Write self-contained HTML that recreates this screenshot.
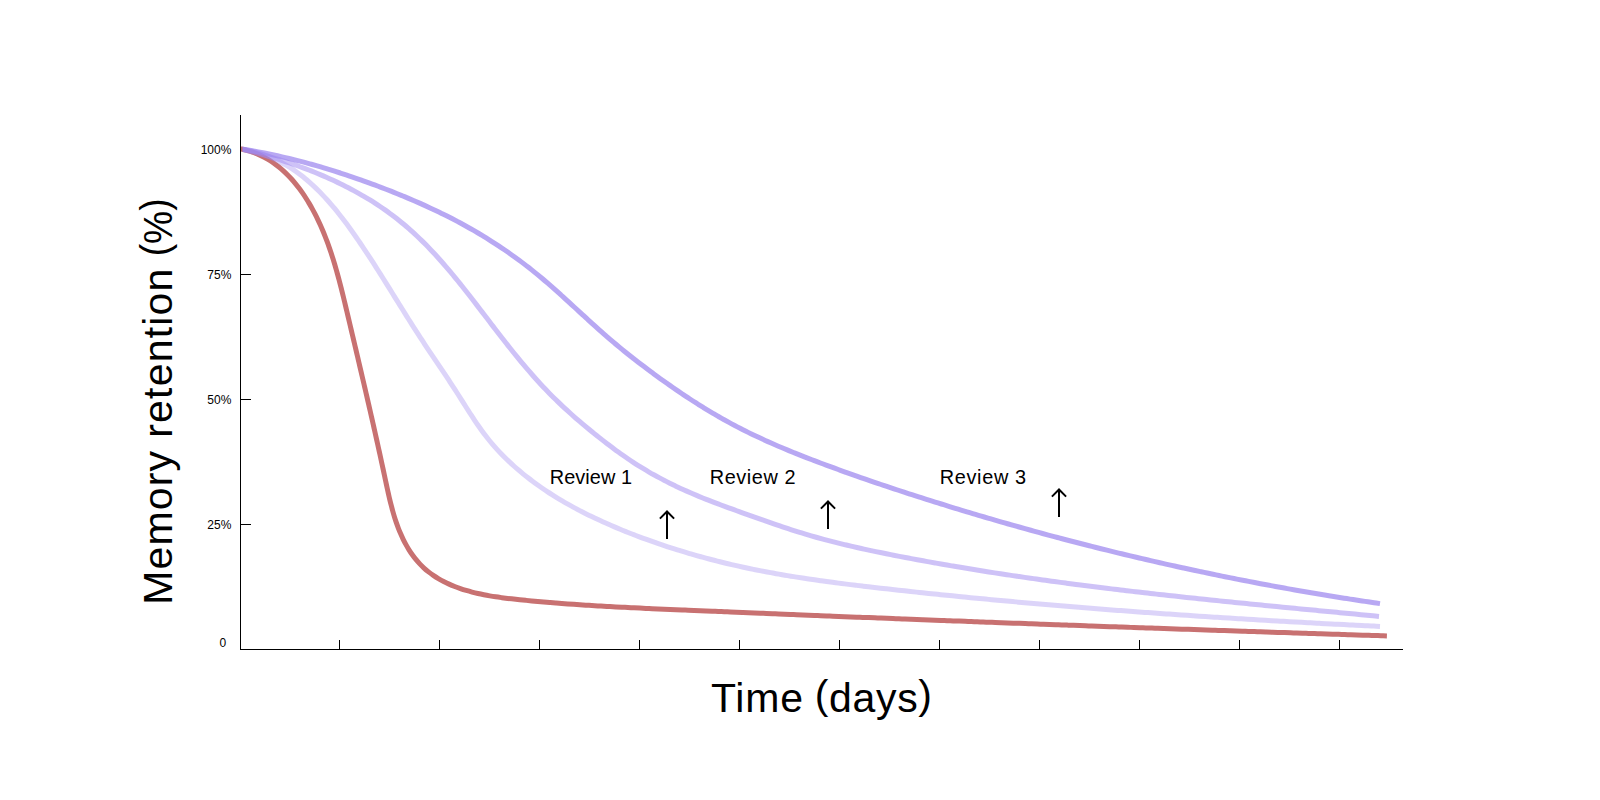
<!DOCTYPE html>
<html lang="en">
<head>
<meta charset="utf-8">
<title>Memory retention over time</title>
<style>
html,body{margin:0;padding:0;background:#fff;}
body{width:1600px;height:800px;overflow:hidden;position:relative;font-family:"Liberation Sans",sans-serif;color:#000;}
svg{position:absolute;left:0;top:0;display:block;}
text{font-family:"Liberation Sans",sans-serif;fill:#000;}
.tick{font-size:12px;}
.rev{font-size:19.9px;}
.ttl{font-size:41px;}
</style>
</head>
<body>
<svg width="1600" height="800" viewBox="0 0 1600 800">
<defs><clipPath id="cp"><rect x="242.6" y="100" width="1200" height="600"/></clipPath></defs>
<rect width="1600" height="800" fill="#fff"/>
<g fill="none" stroke-width="5" stroke-linecap="butt" stroke-linejoin="round">
<path d="M240.50 148.86C241.53 149.09 244.66 149.75 246.67 150.29C248.69 150.84 250.66 151.46 252.59 152.14C254.52 152.82 256.41 153.57 258.26 154.38C260.11 155.19 261.92 156.06 263.69 156.99C265.46 157.91 267.18 158.90 268.88 159.93C270.57 160.97 272.22 162.06 273.84 163.20C275.45 164.34 277.03 165.54 278.57 166.77C280.12 168.01 281.62 169.29 283.09 170.62C284.56 171.94 286.00 173.31 287.40 174.72C288.80 176.12 290.17 177.57 291.50 179.04C292.84 180.52 294.14 182.04 295.40 183.58C296.67 185.13 297.91 186.70 299.11 188.31C300.32 189.91 301.49 191.54 302.64 193.19C303.78 194.84 304.90 196.52 305.98 198.22C307.07 199.91 308.12 201.63 309.15 203.36C310.18 205.10 311.18 206.85 312.15 208.61C313.12 210.36 314.07 212.14 314.99 213.92C315.91 215.71 316.81 217.50 317.68 219.31C318.55 221.11 319.39 222.93 320.22 224.76C321.04 226.58 321.84 228.42 322.62 230.27C323.40 232.11 324.16 233.97 324.90 235.83C325.64 237.69 326.36 239.57 327.06 241.45C327.76 243.33 328.44 245.22 329.11 247.11C329.78 249.01 330.42 250.91 331.06 252.82C331.69 254.72 332.31 256.64 332.91 258.56C333.52 260.48 334.10 262.41 334.68 264.34C335.26 266.27 335.82 268.20 336.37 270.14C336.93 272.08 337.47 274.03 338.00 275.98C338.53 277.92 339.05 279.88 339.57 281.83C340.08 283.78 340.58 285.74 341.08 287.70C341.58 289.66 342.07 291.62 342.56 293.58C343.04 295.54 343.52 297.51 344.00 299.47C344.48 301.43 344.95 303.40 345.42 305.36C345.89 307.33 346.35 309.29 346.82 311.25C347.28 313.22 347.75 315.18 348.21 317.14C348.68 319.10 349.14 321.06 349.60 323.02C350.07 324.98 350.53 326.93 350.99 328.89C351.45 330.85 351.92 332.80 352.38 334.76C352.84 336.71 353.30 338.66 353.76 340.62C354.22 342.57 354.69 344.52 355.15 346.47C355.61 348.42 356.07 350.37 356.53 352.32C356.98 354.27 357.44 356.22 357.90 358.17C358.36 360.12 358.82 362.06 359.27 364.01C359.73 365.96 360.19 367.91 360.64 369.86C361.10 371.80 361.56 373.75 362.01 375.70C362.47 377.64 362.92 379.59 363.37 381.54C363.83 383.49 364.28 385.43 364.73 387.38C365.18 389.33 365.64 391.27 366.09 393.22C366.54 395.17 366.99 397.12 367.44 399.07C367.88 401.02 368.33 402.96 368.78 404.91C369.23 406.86 369.67 408.81 370.12 410.76C370.57 412.72 371.01 414.67 371.46 416.62C371.90 418.57 372.34 420.52 372.79 422.48C373.23 424.43 373.67 426.39 374.11 428.34C374.55 430.30 374.99 432.26 375.43 434.22C375.87 436.17 376.30 438.13 376.74 440.10C377.18 442.06 377.61 444.02 378.05 445.98C378.48 447.95 378.92 449.91 379.35 451.88C379.78 453.85 380.21 455.81 380.64 457.78C381.07 459.75 381.50 461.73 381.93 463.70C382.36 465.67 382.78 467.65 383.21 469.63C383.64 471.60 384.06 473.58 384.48 475.56C384.91 477.54 385.33 479.53 385.75 481.51C386.17 483.50 386.60 485.48 387.03 487.47C387.46 489.45 387.89 491.44 388.34 493.42C388.79 495.40 389.24 497.37 389.71 499.34C390.19 501.32 390.67 503.28 391.18 505.24C391.68 507.20 392.20 509.16 392.75 511.10C393.30 513.04 393.86 514.98 394.46 516.90C395.06 518.82 395.68 520.74 396.33 522.64C396.99 524.53 397.68 526.42 398.40 528.29C399.12 530.16 399.88 532.02 400.68 533.86C401.48 535.70 402.31 537.52 403.19 539.32C404.07 541.12 404.99 542.90 405.96 544.64C406.93 546.39 407.93 548.11 408.99 549.80C410.05 551.48 411.15 553.13 412.30 554.74C413.45 556.35 414.64 557.93 415.89 559.45C417.14 560.98 418.44 562.46 419.79 563.89C421.14 565.32 422.54 566.71 424.00 568.03C425.45 569.36 426.97 570.63 428.52 571.85C430.07 573.07 431.68 574.24 433.33 575.35C434.97 576.47 436.66 577.54 438.38 578.56C440.10 579.58 441.86 580.55 443.65 581.47C445.43 582.40 447.26 583.27 449.10 584.11C450.94 584.94 452.81 585.73 454.70 586.48C456.58 587.23 458.49 587.93 460.41 588.60C462.32 589.26 464.26 589.88 466.20 590.47C468.14 591.05 470.09 591.60 472.04 592.11C474.00 592.62 475.96 593.10 477.92 593.54C479.89 593.99 481.86 594.40 483.83 594.79C485.81 595.18 487.79 595.54 489.77 595.88C491.75 596.22 493.74 596.53 495.73 596.82C497.72 597.12 499.72 597.39 501.71 597.66C503.71 597.92 505.71 598.16 507.71 598.40C509.70 598.64 511.71 598.86 513.71 599.08C515.71 599.30 517.71 599.50 519.71 599.71C521.72 599.92 523.72 600.12 525.72 600.32C527.72 600.52 529.72 600.71 531.73 600.90C533.73 601.09 535.73 601.28 537.74 601.46C539.74 601.64 541.74 601.82 543.75 601.99C545.75 602.16 547.75 602.33 549.76 602.50C551.76 602.67 553.76 602.83 555.77 602.99C557.77 603.15 559.77 603.30 561.78 603.46C563.78 603.61 565.79 603.76 567.79 603.91C569.80 604.05 571.80 604.19 573.80 604.33C575.81 604.47 577.81 604.61 579.82 604.75C581.82 604.88 583.83 605.01 585.83 605.14C587.84 605.27 589.84 605.40 591.85 605.52C593.85 605.64 595.86 605.77 597.86 605.88C599.87 606.00 601.87 606.12 603.88 606.23C605.89 606.35 607.89 606.46 609.90 606.57C611.90 606.68 613.91 606.79 615.91 606.90C617.92 607.00 619.93 607.11 621.93 607.21C623.94 607.31 625.94 607.41 627.95 607.51C629.96 607.61 631.96 607.71 633.97 607.81C635.97 607.91 637.98 608.00 639.99 608.10C641.99 608.19 644.00 608.28 646.01 608.38C648.01 608.47 650.02 608.56 652.02 608.65C654.03 608.74 656.04 608.83 658.04 608.92C660.05 609.01 662.06 609.10 664.06 609.18C666.07 609.27 668.08 609.36 670.08 609.44C672.09 609.53 674.10 609.62 676.10 609.70C678.11 609.79 680.12 609.87 682.12 609.96C684.13 610.05 686.14 610.13 688.15 610.22C690.15 610.30 692.16 610.39 694.17 610.47C696.17 610.56 698.18 610.64 700.19 610.73C702.19 610.81 704.20 610.90 706.21 610.98C708.21 611.07 710.22 611.15 712.23 611.24C714.24 611.32 716.24 611.41 718.25 611.49C720.26 611.57 722.26 611.66 724.27 611.74C726.28 611.83 728.28 611.91 730.29 612.00C732.30 612.08 734.31 612.16 736.31 612.25C738.32 612.33 740.33 612.41 742.33 612.50C744.34 612.58 746.35 612.66 748.36 612.75C750.36 612.83 752.37 612.91 754.38 613.00C756.38 613.08 758.39 613.16 760.40 613.25C762.41 613.33 764.41 613.41 766.42 613.49C768.43 613.58 770.44 613.66 772.44 613.74C774.45 613.82 776.46 613.91 778.47 613.99C780.47 614.07 782.48 614.15 784.49 614.24C786.49 614.32 788.50 614.40 790.51 614.48C792.52 614.56 794.52 614.64 796.53 614.73C798.54 614.81 800.55 614.89 802.55 614.97C804.56 615.05 806.57 615.13 808.58 615.21C810.58 615.30 812.59 615.38 814.60 615.46C816.61 615.54 818.61 615.62 820.62 615.70C822.63 615.78 824.64 615.86 826.64 615.94C828.65 616.02 830.66 616.10 832.67 616.18C834.67 616.26 836.68 616.34 838.69 616.42C840.70 616.50 842.71 616.58 844.71 616.66C846.72 616.74 848.73 616.82 850.74 616.90C852.74 616.98 854.75 617.06 856.76 617.14C858.77 617.22 860.77 617.30 862.78 617.38C864.79 617.46 866.80 617.54 868.81 617.62C870.81 617.70 872.82 617.78 874.83 617.86C876.84 617.93 878.84 618.01 880.85 618.09C882.86 618.17 884.87 618.25 886.88 618.33C888.88 618.41 890.89 618.48 892.90 618.56C894.91 618.64 896.91 618.72 898.92 618.80C900.93 618.88 902.94 618.95 904.95 619.03C906.95 619.11 908.96 619.19 910.97 619.26C912.98 619.34 914.99 619.42 916.99 619.50C919.00 619.57 921.01 619.65 923.02 619.73C925.02 619.81 927.03 619.88 929.04 619.96C931.05 620.04 933.06 620.11 935.06 620.19C937.07 620.27 939.08 620.35 941.09 620.42C943.10 620.50 945.10 620.58 947.11 620.65C949.12 620.73 951.13 620.80 953.14 620.88C955.14 620.96 957.15 621.03 959.16 621.11C961.17 621.19 963.18 621.26 965.18 621.34C967.19 621.41 969.20 621.49 971.21 621.56C973.22 621.64 975.22 621.72 977.23 621.79C979.24 621.87 981.25 621.94 983.26 622.02C985.27 622.09 987.27 622.17 989.28 622.24C991.29 622.32 993.30 622.39 995.31 622.47C997.31 622.54 999.32 622.62 1001.33 622.69C1003.34 622.77 1005.35 622.84 1007.35 622.92C1009.36 622.99 1011.37 623.06 1013.38 623.14C1015.39 623.21 1017.40 623.29 1019.40 623.36C1021.41 623.44 1023.42 623.51 1025.43 623.58C1027.44 623.66 1029.44 623.73 1031.45 623.81C1033.46 623.88 1035.47 623.95 1037.48 624.03C1039.49 624.10 1041.49 624.17 1043.50 624.25C1045.51 624.32 1047.52 624.39 1049.53 624.47C1051.53 624.54 1053.54 624.61 1055.55 624.69C1057.56 624.76 1059.57 624.83 1061.58 624.90C1063.58 624.98 1065.59 625.05 1067.60 625.12C1069.61 625.19 1071.62 625.27 1073.62 625.34C1075.63 625.41 1077.64 625.48 1079.65 625.56C1081.66 625.63 1083.67 625.70 1085.67 625.77C1087.68 625.84 1089.69 625.92 1091.70 625.99C1093.71 626.06 1095.72 626.13 1097.72 626.20C1099.73 626.28 1101.74 626.35 1103.75 626.42C1105.76 626.49 1107.77 626.56 1109.77 626.63C1111.78 626.70 1113.79 626.77 1115.80 626.85C1117.81 626.92 1119.81 626.99 1121.82 627.06C1123.83 627.13 1125.84 627.20 1127.85 627.27C1129.86 627.34 1131.86 627.41 1133.87 627.48C1135.88 627.55 1137.89 627.62 1139.90 627.69C1141.91 627.76 1143.91 627.84 1145.92 627.91C1147.93 627.98 1149.94 628.05 1151.95 628.12C1153.96 628.19 1155.96 628.26 1157.97 628.33C1159.98 628.39 1161.99 628.46 1164.00 628.53C1166.00 628.60 1168.01 628.67 1170.02 628.74C1172.03 628.81 1174.04 628.88 1176.05 628.95C1178.05 629.02 1180.06 629.09 1182.07 629.16C1184.08 629.23 1186.09 629.30 1188.10 629.37C1190.10 629.43 1192.11 629.50 1194.12 629.57C1196.13 629.64 1198.14 629.71 1200.15 629.78C1202.15 629.85 1204.16 629.91 1206.17 629.98C1208.18 630.05 1210.19 630.12 1212.19 630.19C1214.20 630.26 1216.21 630.32 1218.22 630.39C1220.23 630.46 1222.24 630.53 1224.24 630.60C1226.25 630.66 1228.26 630.73 1230.27 630.80C1232.28 630.87 1234.29 630.93 1236.29 631.00C1238.30 631.07 1240.31 631.14 1242.32 631.20C1244.33 631.27 1246.33 631.34 1248.34 631.41C1250.35 631.47 1252.36 631.54 1254.37 631.61C1256.38 631.67 1258.38 631.74 1260.39 631.81C1262.40 631.87 1264.41 631.94 1266.42 632.01C1268.42 632.07 1270.43 632.14 1272.44 632.21C1274.45 632.27 1276.46 632.34 1278.47 632.41C1280.47 632.47 1282.48 632.54 1284.49 632.60C1286.50 632.67 1288.51 632.74 1290.51 632.80C1292.52 632.87 1294.53 632.93 1296.54 633.00C1298.55 633.06 1300.56 633.13 1302.56 633.20C1304.57 633.26 1306.58 633.33 1308.59 633.39C1310.60 633.46 1312.60 633.52 1314.61 633.59C1316.62 633.65 1318.63 633.72 1320.64 633.78C1322.64 633.85 1324.65 633.91 1326.66 633.98C1328.67 634.04 1330.68 634.11 1332.68 634.17C1334.69 634.24 1336.70 634.30 1338.71 634.37C1340.72 634.43 1342.72 634.50 1344.73 634.56C1346.74 634.62 1348.75 634.69 1350.76 634.75C1352.76 634.82 1354.77 634.88 1356.78 634.95C1358.79 635.01 1360.80 635.07 1362.80 635.14C1364.81 635.20 1366.82 635.26 1368.83 635.33C1370.84 635.39 1372.84 635.46 1374.85 635.52C1376.86 635.58 1378.87 635.65 1380.88 635.71C1382.88 635.77 1385.90 635.87 1386.90 635.90" stroke="#c87171"/>
<g clip-path="url(#cp)">
<path d="M240.50 148.85C241.54 149.03 244.71 149.52 246.77 149.93C248.83 150.33 250.87 150.79 252.87 151.30C254.87 151.80 256.85 152.35 258.80 152.95C260.75 153.55 262.67 154.19 264.56 154.88C266.46 155.56 268.32 156.29 270.17 157.06C272.01 157.84 273.82 158.65 275.62 159.50C277.41 160.36 279.17 161.25 280.92 162.18C282.66 163.11 284.38 164.08 286.07 165.08C287.77 166.09 289.44 167.13 291.09 168.20C292.74 169.28 294.37 170.38 295.97 171.52C297.58 172.66 299.17 173.84 300.73 175.04C302.29 176.24 303.84 177.48 305.36 178.74C306.89 180.00 308.39 181.29 309.88 182.60C311.36 183.92 312.83 185.26 314.28 186.62C315.72 187.99 317.15 189.38 318.57 190.79C319.98 192.21 321.38 193.64 322.76 195.10C324.14 196.55 325.50 198.03 326.85 199.53C328.20 201.02 329.53 202.54 330.85 204.07C332.17 205.60 333.47 207.14 334.76 208.71C336.05 210.27 337.33 211.84 338.59 213.43C339.85 215.02 341.10 216.63 342.34 218.24C343.58 219.85 344.81 221.48 346.02 223.11C347.24 224.74 348.44 226.39 349.64 228.04C350.83 229.69 352.02 231.34 353.19 233.00C354.37 234.67 355.53 236.33 356.69 238.00C357.84 239.67 358.99 241.35 360.13 243.02C361.27 244.70 362.40 246.38 363.53 248.06C364.65 249.74 365.77 251.42 366.88 253.10C368.00 254.79 369.10 256.47 370.20 258.16C371.30 259.85 372.40 261.54 373.49 263.23C374.57 264.92 375.66 266.61 376.74 268.31C377.82 270.00 378.89 271.69 379.97 273.39C381.04 275.08 382.11 276.78 383.18 278.48C384.24 280.17 385.30 281.87 386.37 283.57C387.43 285.27 388.49 286.97 389.54 288.67C390.60 290.37 391.66 292.07 392.71 293.76C393.77 295.46 394.82 297.16 395.88 298.86C396.94 300.56 397.99 302.26 399.05 303.96C400.10 305.66 401.16 307.35 402.22 309.05C403.28 310.75 404.34 312.45 405.40 314.14C406.46 315.84 407.52 317.53 408.59 319.23C409.66 320.92 410.73 322.61 411.80 324.30C412.88 325.99 413.95 327.68 415.03 329.37C416.12 331.06 417.20 332.75 418.29 334.43C419.38 336.11 420.48 337.80 421.58 339.48C422.68 341.16 423.79 342.84 424.90 344.51C426.01 346.19 427.13 347.86 428.25 349.54C429.37 351.21 430.50 352.89 431.62 354.56C432.75 356.23 433.88 357.91 435.01 359.58C436.13 361.26 437.26 362.93 438.39 364.60C439.52 366.28 440.65 367.96 441.78 369.63C442.91 371.31 444.03 372.99 445.16 374.67C446.28 376.36 447.40 378.04 448.52 379.73C449.63 381.42 450.74 383.11 451.85 384.80C452.96 386.50 454.06 388.20 455.15 389.90C456.25 391.60 457.34 393.31 458.42 395.02C459.51 396.73 460.59 398.44 461.67 400.15C462.75 401.86 463.83 403.57 464.91 405.28C465.99 406.99 467.08 408.70 468.17 410.40C469.26 412.10 470.35 413.79 471.45 415.48C472.56 417.17 473.67 418.85 474.79 420.52C475.91 422.19 477.04 423.86 478.19 425.50C479.34 427.15 480.50 428.79 481.68 430.42C482.86 432.04 484.05 433.65 485.27 435.24C486.49 436.83 487.72 438.41 488.98 439.97C490.24 441.52 491.52 443.06 492.82 444.58C494.12 446.10 495.45 447.60 496.80 449.09C498.14 450.57 499.51 452.03 500.89 453.48C502.28 454.92 503.68 456.35 505.11 457.76C506.53 459.17 507.97 460.56 509.43 461.94C510.89 463.31 512.37 464.67 513.86 466.01C515.36 467.34 516.87 468.67 518.39 469.97C519.92 471.27 521.46 472.56 523.02 473.83C524.57 475.10 526.14 476.35 527.72 477.59C529.31 478.82 530.91 480.04 532.51 481.24C534.12 482.45 535.74 483.63 537.38 484.80C539.01 485.97 540.65 487.12 542.31 488.26C543.96 489.39 545.63 490.51 547.30 491.62C548.98 492.73 550.67 493.81 552.36 494.89C554.06 495.96 555.77 497.02 557.48 498.07C559.20 499.12 560.93 500.15 562.66 501.16C564.39 502.18 566.14 503.18 567.89 504.17C569.64 505.16 571.40 506.14 573.17 507.10C574.94 508.06 576.71 509.01 578.50 509.94C580.28 510.88 582.07 511.80 583.87 512.72C585.67 513.63 587.47 514.53 589.28 515.41C591.09 516.30 592.91 517.18 594.73 518.04C596.55 518.90 598.38 519.76 600.22 520.60C602.05 521.44 603.89 522.27 605.73 523.09C607.58 523.91 609.43 524.72 611.28 525.52C613.13 526.32 614.99 527.11 616.85 527.89C618.71 528.67 620.58 529.44 622.45 530.20C624.31 530.96 626.19 531.71 628.06 532.46C629.94 533.20 631.81 533.94 633.69 534.66C635.57 535.39 637.45 536.11 639.34 536.82C641.23 537.52 643.11 538.23 645.00 538.92C646.89 539.61 648.79 540.29 650.68 540.97C652.58 541.64 654.48 542.31 656.38 542.97C658.28 543.63 660.18 544.28 662.09 544.92C663.99 545.56 665.90 546.19 667.81 546.82C669.72 547.44 671.64 548.06 673.55 548.67C675.47 549.28 677.38 549.88 679.30 550.47C681.22 551.07 683.15 551.65 685.07 552.23C686.99 552.80 688.92 553.37 690.85 553.93C692.78 554.50 694.71 555.05 696.64 555.59C698.57 556.14 700.51 556.68 702.45 557.21C704.38 557.74 706.32 558.26 708.26 558.77C710.20 559.29 712.15 559.79 714.09 560.29C716.04 560.79 717.98 561.28 719.93 561.77C721.88 562.25 723.83 562.73 725.78 563.20C727.73 563.67 729.69 564.13 731.64 564.58C733.60 565.03 735.56 565.48 737.51 565.92C739.47 566.36 741.43 566.79 743.40 567.22C745.36 567.64 747.32 568.06 749.29 568.47C751.25 568.88 753.22 569.29 755.19 569.68C757.16 570.08 759.13 570.47 761.10 570.86C763.07 571.24 765.04 571.62 767.01 571.99C768.99 572.36 770.96 572.73 772.94 573.08C774.92 573.44 776.89 573.80 778.87 574.15C780.85 574.49 782.83 574.84 784.81 575.17C786.79 575.51 788.78 575.84 790.76 576.17C792.74 576.49 794.73 576.81 796.71 577.13C798.70 577.44 800.69 577.75 802.67 578.06C804.66 578.37 806.65 578.67 808.64 578.97C810.63 579.26 812.62 579.56 814.61 579.84C816.60 580.13 818.59 580.42 820.59 580.70C822.58 580.98 824.57 581.25 826.57 581.53C828.56 581.80 830.55 582.07 832.55 582.33C834.55 582.60 836.54 582.86 838.54 583.12C840.54 583.38 842.53 583.63 844.53 583.89C846.53 584.14 848.53 584.39 850.53 584.64C852.52 584.88 854.52 585.13 856.52 585.37C858.52 585.61 860.52 585.85 862.52 586.09C864.52 586.33 866.52 586.56 868.53 586.79C870.53 587.03 872.53 587.26 874.53 587.49C876.53 587.72 878.53 587.95 880.53 588.17C882.54 588.40 884.54 588.62 886.54 588.85C888.54 589.07 890.54 589.29 892.55 589.51C894.55 589.74 896.55 589.96 898.55 590.18C900.55 590.40 902.56 590.61 904.56 590.83C906.56 591.05 908.56 591.27 910.56 591.48C912.57 591.70 914.57 591.91 916.57 592.12C918.57 592.34 920.58 592.55 922.58 592.76C924.58 592.97 926.58 593.18 928.58 593.39C930.59 593.60 932.59 593.81 934.59 594.02C936.59 594.22 938.60 594.43 940.60 594.64C942.60 594.84 944.60 595.04 946.61 595.25C948.61 595.45 950.61 595.65 952.62 595.85C954.62 596.06 956.62 596.26 958.62 596.46C960.63 596.66 962.63 596.85 964.63 597.05C966.64 597.25 968.64 597.45 970.64 597.64C972.64 597.84 974.65 598.03 976.65 598.22C978.65 598.42 980.66 598.61 982.66 598.80C984.66 598.99 986.67 599.18 988.67 599.37C990.67 599.56 992.68 599.75 994.68 599.94C996.68 600.13 998.69 600.32 1000.69 600.50C1002.69 600.69 1004.70 600.87 1006.70 601.06C1008.70 601.24 1010.71 601.43 1012.71 601.61C1014.71 601.79 1016.72 601.97 1018.72 602.15C1020.72 602.33 1022.73 602.51 1024.73 602.69C1026.73 602.87 1028.74 603.05 1030.74 603.22C1032.75 603.40 1034.75 603.58 1036.75 603.75C1038.76 603.93 1040.76 604.10 1042.77 604.28C1044.77 604.45 1046.77 604.62 1048.78 604.79C1050.78 604.97 1052.79 605.14 1054.79 605.31C1056.79 605.48 1058.80 605.65 1060.80 605.81C1062.81 605.98 1064.81 606.15 1066.82 606.32C1068.82 606.48 1070.83 606.65 1072.83 606.81C1074.83 606.98 1076.84 607.14 1078.84 607.31C1080.85 607.47 1082.85 607.63 1084.86 607.79C1086.86 607.95 1088.87 608.12 1090.87 608.28C1092.88 608.44 1094.88 608.59 1096.89 608.75C1098.89 608.91 1100.90 609.07 1102.90 609.23C1104.91 609.38 1106.91 609.54 1108.92 609.69C1110.92 609.85 1112.93 610.00 1114.93 610.16C1116.94 610.31 1118.94 610.46 1120.95 610.61C1122.95 610.77 1124.96 610.92 1126.96 611.07C1128.97 611.22 1130.98 611.37 1132.98 611.52C1134.99 611.66 1136.99 611.81 1139.00 611.96C1141.00 612.11 1143.01 612.25 1145.02 612.40C1147.02 612.54 1149.03 612.69 1151.03 612.83C1153.04 612.98 1155.04 613.12 1157.05 613.26C1159.06 613.41 1161.06 613.55 1163.07 613.69C1165.08 613.83 1167.08 613.97 1169.09 614.11C1171.09 614.25 1173.10 614.39 1175.11 614.53C1177.11 614.67 1179.12 614.80 1181.13 614.94C1183.13 615.08 1185.14 615.21 1187.15 615.35C1189.15 615.49 1191.16 615.62 1193.17 615.75C1195.17 615.89 1197.18 616.02 1199.19 616.15C1201.19 616.29 1203.20 616.42 1205.21 616.55C1207.22 616.68 1209.22 616.81 1211.23 616.94C1213.24 617.07 1215.24 617.20 1217.25 617.33C1219.26 617.46 1221.27 617.59 1223.27 617.71C1225.28 617.84 1227.29 617.97 1229.30 618.09C1231.30 618.22 1233.31 618.34 1235.32 618.47C1237.33 618.59 1239.33 618.72 1241.34 618.84C1243.35 618.96 1245.36 619.09 1247.37 619.21C1249.37 619.33 1251.38 619.45 1253.39 619.57C1255.40 619.69 1257.41 619.81 1259.41 619.93C1261.42 620.05 1263.43 620.17 1265.44 620.29C1267.45 620.41 1269.46 620.52 1271.47 620.64C1273.47 620.76 1275.48 620.87 1277.49 620.99C1279.50 621.11 1281.51 621.22 1283.52 621.34C1285.53 621.45 1287.54 621.56 1289.54 621.68C1291.55 621.79 1293.56 621.90 1295.57 622.02C1297.58 622.13 1299.59 622.24 1301.60 622.35C1303.61 622.46 1305.62 622.57 1307.63 622.68C1309.64 622.79 1311.65 622.90 1313.66 623.01C1315.67 623.12 1317.67 623.23 1319.68 623.33C1321.69 623.44 1323.70 623.55 1325.71 623.65C1327.72 623.76 1329.73 623.87 1331.74 623.97C1333.75 624.08 1335.76 624.18 1337.77 624.29C1339.78 624.39 1341.79 624.49 1343.81 624.60C1345.82 624.70 1347.83 624.80 1349.84 624.91C1351.85 625.01 1353.86 625.11 1355.87 625.21C1357.88 625.31 1359.89 625.41 1361.90 625.51C1363.91 625.61 1365.92 625.71 1367.93 625.81C1369.94 625.91 1371.96 626.01 1373.97 626.11C1375.98 626.21 1378.99 626.35 1380.00 626.40" stroke="#9e88ef" stroke-opacity="0.36"/>
<path d="M240.50 148.85C241.46 149.09 244.33 149.79 246.25 150.27C248.17 150.75 250.09 151.24 252.01 151.74C253.94 152.25 255.86 152.76 257.79 153.28C259.71 153.81 261.64 154.34 263.56 154.89C265.49 155.44 267.42 155.99 269.34 156.56C271.27 157.13 273.20 157.71 275.12 158.31C277.04 158.90 278.97 159.50 280.89 160.12C282.81 160.73 284.73 161.36 286.65 162.00C288.57 162.64 290.49 163.29 292.40 163.96C294.32 164.62 296.23 165.30 298.13 165.99C300.04 166.67 301.95 167.38 303.85 168.09C305.75 168.81 307.64 169.53 309.54 170.27C311.43 171.01 313.31 171.77 315.20 172.53C317.08 173.30 318.96 174.08 320.83 174.87C322.70 175.67 324.56 176.47 326.42 177.29C328.28 178.11 330.13 178.95 331.98 179.80C333.82 180.64 335.66 181.51 337.50 182.38C339.33 183.26 341.15 184.15 342.97 185.05C344.78 185.96 346.59 186.88 348.39 187.81C350.18 188.75 351.97 189.69 353.75 190.66C355.53 191.62 357.31 192.60 359.07 193.59C360.83 194.59 362.58 195.59 364.32 196.62C366.06 197.64 367.79 198.68 369.51 199.73C371.23 200.79 372.93 201.86 374.63 202.95C376.32 204.03 378.01 205.13 379.68 206.25C381.35 207.37 383.01 208.50 384.66 209.65C386.30 210.80 387.94 211.97 389.55 213.15C391.17 214.33 392.78 215.53 394.37 216.75C395.96 217.96 397.54 219.20 399.10 220.45C400.66 221.70 402.21 222.96 403.75 224.24C405.28 225.53 406.80 226.83 408.30 228.14C409.81 229.46 411.30 230.79 412.78 232.13C414.25 233.48 415.72 234.84 417.17 236.21C418.62 237.58 420.06 238.97 421.49 240.37C422.92 241.77 424.34 243.19 425.74 244.61C427.15 246.04 428.54 247.48 429.93 248.93C431.31 250.38 432.69 251.84 434.05 253.31C435.41 254.78 436.77 256.26 438.11 257.75C439.46 259.25 440.80 260.75 442.12 262.26C443.45 263.77 444.77 265.29 446.09 266.82C447.40 268.34 448.70 269.88 450.00 271.42C451.30 272.97 452.59 274.52 453.87 276.08C455.16 277.63 456.44 279.20 457.71 280.77C458.98 282.33 460.25 283.91 461.51 285.49C462.77 287.07 464.03 288.65 465.28 290.24C466.54 291.83 467.79 293.42 469.03 295.02C470.28 296.62 471.52 298.22 472.76 299.82C474.00 301.42 475.23 303.02 476.47 304.63C477.70 306.23 478.93 307.84 480.16 309.45C481.39 311.06 482.62 312.66 483.85 314.27C485.08 315.88 486.31 317.49 487.53 319.10C488.76 320.70 489.99 322.31 491.21 323.92C492.44 325.52 493.67 327.12 494.90 328.72C496.13 330.32 497.36 331.92 498.59 333.52C499.82 335.11 501.06 336.70 502.30 338.29C503.53 339.88 504.77 341.47 506.02 343.05C507.26 344.63 508.51 346.21 509.76 347.78C511.01 349.35 512.26 350.92 513.52 352.48C514.78 354.05 516.05 355.61 517.32 357.16C518.59 358.71 519.86 360.26 521.15 361.80C522.43 363.34 523.72 364.88 525.01 366.41C526.31 367.94 527.61 369.46 528.92 370.98C530.23 372.50 531.55 374.01 532.87 375.51C534.20 377.01 535.53 378.51 536.88 379.99C538.22 381.48 539.58 382.96 540.94 384.43C542.30 385.90 543.67 387.36 545.06 388.81C546.44 390.27 547.83 391.71 549.24 393.15C550.64 394.58 552.06 396.01 553.49 397.43C554.92 398.84 556.36 400.25 557.80 401.65C559.25 403.05 560.71 404.44 562.18 405.82C563.65 407.20 565.13 408.57 566.62 409.93C568.11 411.29 569.60 412.65 571.11 414.00C572.62 415.34 574.13 416.68 575.65 418.01C577.18 419.34 578.71 420.66 580.25 421.97C581.78 423.29 583.33 424.59 584.88 425.89C586.43 427.19 587.99 428.48 589.56 429.76C591.12 431.04 592.70 432.32 594.27 433.59C595.85 434.85 597.43 436.12 599.02 437.37C600.61 438.62 602.20 439.87 603.80 441.11C605.40 442.35 607.00 443.58 608.61 444.80C610.23 446.02 611.84 447.23 613.46 448.43C615.09 449.64 616.71 450.83 618.35 452.01C619.98 453.19 621.63 454.36 623.28 455.52C624.93 456.67 626.58 457.82 628.25 458.95C629.91 460.08 631.58 461.19 633.26 462.30C634.94 463.40 636.63 464.49 638.33 465.56C640.03 466.63 641.73 467.68 643.45 468.72C645.16 469.76 646.89 470.79 648.62 471.80C650.35 472.80 652.09 473.80 653.84 474.77C655.58 475.75 657.34 476.72 659.10 477.66C660.87 478.61 662.64 479.55 664.42 480.47C666.20 481.39 667.98 482.29 669.78 483.19C671.57 484.08 673.37 484.96 675.18 485.83C676.99 486.69 678.80 487.55 680.62 488.39C682.44 489.23 684.27 490.06 686.10 490.88C687.94 491.70 689.78 492.50 691.62 493.30C693.47 494.09 695.32 494.87 697.17 495.65C699.03 496.42 700.89 497.18 702.76 497.94C704.62 498.69 706.50 499.43 708.37 500.17C710.25 500.91 712.13 501.64 714.01 502.36C715.89 503.08 717.78 503.79 719.67 504.50C721.56 505.21 723.45 505.91 725.34 506.61C727.24 507.31 729.13 508.00 731.03 508.69C732.93 509.38 734.83 510.06 736.73 510.75C738.63 511.43 740.54 512.11 742.44 512.78C744.34 513.46 746.25 514.13 748.15 514.81C750.06 515.48 751.96 516.16 753.86 516.83C755.77 517.50 757.67 518.18 759.58 518.85C761.48 519.52 763.38 520.19 765.29 520.86C767.19 521.52 769.09 522.19 771.00 522.85C772.91 523.51 774.81 524.17 776.72 524.82C778.63 525.48 780.53 526.12 782.44 526.77C784.35 527.41 786.26 528.05 788.18 528.68C790.09 529.30 792.01 529.93 793.92 530.54C795.84 531.16 797.76 531.76 799.68 532.36C801.60 532.96 803.53 533.55 805.45 534.13C807.38 534.70 809.31 535.27 811.24 535.83C813.18 536.39 815.11 536.95 817.05 537.49C818.99 538.03 820.93 538.57 822.87 539.09C824.81 539.62 826.76 540.13 828.70 540.64C830.65 541.15 832.60 541.66 834.55 542.15C836.50 542.65 838.45 543.13 840.41 543.61C842.36 544.09 844.32 544.57 846.28 545.03C848.23 545.50 850.19 545.96 852.15 546.42C854.12 546.87 856.08 547.32 858.04 547.76C860.01 548.20 861.97 548.64 863.94 549.07C865.91 549.50 867.88 549.93 869.85 550.35C871.82 550.77 873.79 551.19 875.76 551.60C877.73 552.01 879.70 552.42 881.68 552.82C883.65 553.23 885.63 553.63 887.60 554.02C889.58 554.42 891.55 554.81 893.53 555.20C895.51 555.59 897.49 555.97 899.46 556.36C901.44 556.74 903.42 557.12 905.40 557.50C907.38 557.87 909.36 558.25 911.34 558.62C913.32 558.99 915.30 559.36 917.28 559.73C919.26 560.10 921.24 560.46 923.22 560.83C925.20 561.19 927.19 561.55 929.17 561.91C931.15 562.26 933.13 562.62 935.12 562.97C937.10 563.33 939.08 563.68 941.07 564.02C943.05 564.37 945.04 564.72 947.02 565.06C949.00 565.40 950.99 565.75 952.98 566.08C954.96 566.42 956.95 566.76 958.93 567.09C960.92 567.43 962.91 567.76 964.89 568.09C966.88 568.42 968.87 568.75 970.85 569.07C972.84 569.40 974.83 569.72 976.82 570.04C978.81 570.36 980.79 570.68 982.78 571.00C984.77 571.32 986.76 571.63 988.75 571.94C990.74 572.26 992.73 572.57 994.72 572.88C996.71 573.18 998.70 573.49 1000.69 573.80C1002.68 574.10 1004.67 574.40 1006.67 574.70C1008.66 575.00 1010.65 575.30 1012.64 575.60C1014.63 575.90 1016.63 576.19 1018.62 576.48C1020.61 576.78 1022.60 577.07 1024.60 577.36C1026.59 577.64 1028.58 577.93 1030.58 578.22C1032.57 578.50 1034.57 578.79 1036.56 579.07C1038.56 579.35 1040.55 579.63 1042.55 579.91C1044.54 580.19 1046.54 580.46 1048.53 580.74C1050.53 581.01 1052.52 581.29 1054.52 581.56C1056.51 581.83 1058.51 582.10 1060.51 582.37C1062.50 582.63 1064.50 582.90 1066.50 583.16C1068.49 583.43 1070.49 583.69 1072.49 583.95C1074.49 584.22 1076.48 584.48 1078.48 584.73C1080.48 584.99 1082.48 585.25 1084.48 585.51C1086.47 585.76 1088.47 586.01 1090.47 586.27C1092.47 586.52 1094.47 586.77 1096.47 587.02C1098.47 587.27 1100.47 587.52 1102.47 587.76C1104.47 588.01 1106.47 588.26 1108.47 588.50C1110.47 588.74 1112.47 588.99 1114.47 589.23C1116.47 589.47 1118.47 589.71 1120.47 589.95C1122.47 590.19 1124.47 590.42 1126.47 590.66C1128.47 590.90 1130.47 591.13 1132.48 591.37C1134.48 591.60 1136.48 591.83 1138.48 592.06C1140.48 592.29 1142.48 592.52 1144.49 592.75C1146.49 592.98 1148.49 593.21 1150.49 593.44C1152.49 593.66 1154.50 593.89 1156.50 594.11C1158.50 594.34 1160.51 594.56 1162.51 594.78C1164.51 595.01 1166.51 595.23 1168.52 595.45C1170.52 595.67 1172.52 595.89 1174.53 596.11C1176.53 596.32 1178.53 596.54 1180.54 596.76C1182.54 596.97 1184.54 597.19 1186.55 597.40C1188.55 597.62 1190.56 597.83 1192.56 598.04C1194.56 598.26 1196.57 598.47 1198.57 598.68C1200.58 598.89 1202.58 599.10 1204.59 599.31C1206.59 599.52 1208.59 599.73 1210.60 599.94C1212.60 600.15 1214.61 600.35 1216.61 600.56C1218.62 600.77 1220.62 600.97 1222.63 601.18C1224.63 601.38 1226.64 601.59 1228.64 601.79C1230.65 601.99 1232.65 602.20 1234.66 602.40C1236.66 602.60 1238.67 602.80 1240.67 603.00C1242.68 603.21 1244.68 603.41 1246.69 603.61C1248.69 603.81 1250.70 604.01 1252.70 604.21C1254.71 604.40 1256.71 604.60 1258.72 604.80C1260.72 605.00 1262.73 605.20 1264.73 605.39C1266.74 605.59 1268.74 605.79 1270.75 605.98C1272.75 606.18 1274.76 606.38 1276.76 606.57C1278.77 606.77 1280.78 606.96 1282.78 607.16C1284.79 607.35 1286.79 607.55 1288.80 607.74C1290.80 607.94 1292.81 608.13 1294.81 608.32C1296.82 608.52 1298.82 608.71 1300.83 608.90C1302.83 609.10 1304.84 609.29 1306.84 609.48C1308.85 609.67 1310.85 609.87 1312.86 610.06C1314.86 610.25 1316.87 610.44 1318.87 610.64C1320.88 610.83 1322.88 611.02 1324.89 611.21C1326.89 611.40 1328.90 611.60 1330.90 611.79C1332.91 611.98 1334.91 612.17 1336.92 612.36C1338.92 612.56 1340.93 612.75 1342.93 612.94C1344.93 613.13 1346.94 613.32 1348.94 613.51C1350.95 613.71 1352.95 613.90 1354.96 614.09C1356.96 614.28 1358.96 614.47 1360.97 614.67C1362.97 614.86 1364.98 615.05 1366.98 615.24C1368.98 615.44 1370.99 615.63 1372.99 615.82C1374.99 616.01 1378.00 616.30 1379.00 616.40" stroke="#9e88ef" stroke-opacity="0.51"/>
<path d="M240.50 148.85C241.50 149.01 244.49 149.48 246.49 149.81C248.48 150.14 250.47 150.48 252.46 150.83C254.45 151.18 256.44 151.54 258.42 151.91C260.40 152.28 262.38 152.66 264.36 153.06C266.34 153.45 268.32 153.85 270.29 154.26C272.26 154.67 274.23 155.09 276.20 155.52C278.17 155.95 280.14 156.39 282.10 156.84C284.07 157.29 286.03 157.75 287.99 158.22C289.95 158.69 291.90 159.17 293.86 159.66C295.81 160.14 297.76 160.64 299.71 161.15C301.66 161.65 303.61 162.16 305.55 162.69C307.50 163.21 309.44 163.74 311.38 164.28C313.32 164.82 315.26 165.37 317.20 165.93C319.13 166.48 321.07 167.05 323.00 167.62C324.93 168.19 326.86 168.78 328.79 169.37C330.71 169.96 332.64 170.55 334.56 171.16C336.48 171.76 338.40 172.38 340.32 173.00C342.24 173.62 344.16 174.24 346.07 174.88C347.98 175.52 349.90 176.16 351.81 176.81C353.72 177.46 355.62 178.11 357.53 178.78C359.43 179.44 361.34 180.11 363.24 180.79C365.14 181.47 367.04 182.15 368.94 182.85C370.84 183.54 372.73 184.23 374.62 184.94C376.52 185.64 378.41 186.35 380.30 187.07C382.19 187.79 384.08 188.51 385.96 189.24C387.85 189.97 389.73 190.71 391.61 191.45C393.49 192.19 395.37 192.94 397.24 193.70C399.12 194.46 400.99 195.22 402.86 195.99C404.73 196.76 406.59 197.54 408.46 198.33C410.32 199.12 412.18 199.91 414.04 200.71C415.89 201.51 417.74 202.32 419.59 203.14C421.44 203.96 423.29 204.79 425.13 205.62C426.97 206.46 428.81 207.30 430.64 208.15C432.47 209.01 434.30 209.87 436.12 210.74C437.95 211.61 439.76 212.49 441.58 213.38C443.39 214.27 445.20 215.17 447.00 216.07C448.81 216.98 450.61 217.90 452.40 218.83C454.19 219.76 455.98 220.69 457.77 221.64C459.55 222.59 461.32 223.55 463.10 224.52C464.87 225.49 466.63 226.47 468.39 227.45C470.15 228.44 471.90 229.44 473.65 230.45C475.40 231.46 477.14 232.48 478.87 233.51C480.61 234.54 482.33 235.58 484.05 236.63C485.78 237.68 487.49 238.75 489.20 239.82C490.91 240.89 492.61 241.97 494.30 243.07C495.99 244.16 497.68 245.26 499.36 246.38C501.04 247.49 502.71 248.61 504.38 249.75C506.04 250.88 507.70 252.03 509.35 253.19C511.00 254.34 512.64 255.51 514.27 256.69C515.91 257.87 517.54 259.06 519.15 260.25C520.77 261.45 522.38 262.66 523.98 263.89C525.59 265.11 527.18 266.34 528.77 267.58C530.35 268.82 531.93 270.08 533.50 271.34C535.06 272.61 536.62 273.88 538.18 275.16C539.73 276.45 541.28 277.74 542.81 279.04C544.35 280.34 545.89 281.66 547.41 282.97C548.94 284.29 550.46 285.61 551.97 286.94C553.49 288.27 555.00 289.61 556.51 290.95C558.01 292.29 559.51 293.64 561.01 294.99C562.51 296.34 564.01 297.70 565.50 299.06C566.99 300.41 568.48 301.77 569.97 303.14C571.46 304.50 572.94 305.86 574.43 307.23C575.91 308.59 577.40 309.96 578.88 311.32C580.37 312.69 581.85 314.06 583.34 315.42C584.82 316.78 586.31 318.15 587.80 319.51C589.29 320.87 590.78 322.23 592.27 323.58C593.76 324.93 595.26 326.29 596.76 327.63C598.26 328.98 599.76 330.32 601.27 331.66C602.78 332.99 604.29 334.33 605.81 335.65C607.33 336.97 608.85 338.29 610.38 339.60C611.91 340.91 613.45 342.21 614.99 343.51C616.53 344.81 618.08 346.09 619.64 347.37C621.19 348.66 622.75 349.93 624.32 351.20C625.89 352.46 627.46 353.72 629.04 354.98C630.62 356.23 632.20 357.48 633.79 358.72C635.38 359.96 636.97 361.20 638.57 362.43C640.17 363.66 641.78 364.89 643.39 366.11C644.99 367.33 646.61 368.54 648.23 369.75C649.84 370.96 651.47 372.16 653.09 373.36C654.72 374.56 656.35 375.76 657.99 376.94C659.62 378.13 661.26 379.32 662.91 380.49C664.55 381.67 666.20 382.84 667.85 384.01C669.51 385.17 671.16 386.33 672.83 387.49C674.49 388.64 676.16 389.78 677.83 390.92C679.50 392.06 681.18 393.19 682.86 394.32C684.54 395.44 686.23 396.56 687.92 397.67C689.61 398.78 691.30 399.88 693.00 400.98C694.70 402.07 696.41 403.16 698.12 404.24C699.83 405.31 701.54 406.38 703.26 407.44C704.98 408.50 706.70 409.56 708.43 410.60C710.16 411.64 711.90 412.67 713.64 413.70C715.37 414.72 717.12 415.74 718.87 416.74C720.62 417.75 722.37 418.74 724.13 419.73C725.89 420.71 727.65 421.69 729.42 422.65C731.19 423.61 732.97 424.57 734.74 425.51C736.52 426.45 738.31 427.38 740.10 428.30C741.89 429.22 743.68 430.13 745.48 431.03C747.28 431.93 749.09 432.82 750.90 433.70C752.71 434.58 754.52 435.44 756.34 436.30C758.15 437.16 759.98 438.01 761.80 438.85C763.63 439.70 765.46 440.53 767.30 441.35C769.13 442.17 770.97 442.99 772.81 443.80C774.65 444.60 776.50 445.40 778.35 446.19C780.20 446.99 782.05 447.77 783.91 448.55C785.76 449.33 787.62 450.10 789.48 450.86C791.34 451.62 793.21 452.38 795.08 453.13C796.94 453.88 798.81 454.63 800.69 455.37C802.56 456.11 804.43 456.85 806.31 457.58C808.19 458.31 810.07 459.03 811.95 459.75C813.83 460.47 815.72 461.19 817.60 461.90C819.49 462.61 821.37 463.32 823.26 464.03C825.15 464.73 827.04 465.43 828.93 466.13C830.82 466.83 832.72 467.52 834.61 468.21C836.50 468.91 838.40 469.60 840.30 470.28C842.19 470.97 844.09 471.65 845.99 472.33C847.89 473.01 849.79 473.68 851.69 474.36C853.59 475.03 855.50 475.70 857.40 476.37C859.31 477.04 861.21 477.70 863.12 478.36C865.02 479.03 866.93 479.69 868.84 480.34C870.75 481.00 872.66 481.65 874.57 482.30C876.48 482.96 878.39 483.60 880.30 484.25C882.22 484.90 884.13 485.54 886.05 486.18C887.96 486.82 889.88 487.46 891.79 488.10C893.71 488.73 895.62 489.37 897.54 490.00C899.46 490.63 901.38 491.26 903.30 491.88C905.22 492.51 907.14 493.14 909.06 493.76C910.98 494.38 912.90 495.00 914.82 495.62C916.75 496.24 918.67 496.85 920.59 497.47C922.52 498.08 924.44 498.69 926.36 499.30C928.29 499.91 930.21 500.52 932.14 501.12C934.07 501.73 935.99 502.33 937.92 502.94C939.85 503.54 941.77 504.14 943.70 504.73C945.63 505.33 947.56 505.93 949.49 506.52C951.42 507.12 953.34 507.71 955.27 508.30C957.20 508.89 959.14 509.47 961.07 510.06C963.00 510.65 964.93 511.23 966.86 511.81C968.79 512.39 970.73 512.97 972.66 513.55C974.59 514.13 976.53 514.70 978.46 515.28C980.40 515.85 982.33 516.42 984.27 516.99C986.20 517.56 988.14 518.13 990.08 518.69C992.01 519.26 993.95 519.82 995.89 520.38C997.83 520.95 999.76 521.50 1001.70 522.06C1003.64 522.62 1005.58 523.17 1007.52 523.73C1009.46 524.28 1011.40 524.83 1013.34 525.38C1015.28 525.93 1017.22 526.48 1019.17 527.02C1021.11 527.57 1023.05 528.11 1024.99 528.65C1026.94 529.19 1028.88 529.73 1030.82 530.27C1032.77 530.81 1034.71 531.34 1036.66 531.88C1038.60 532.41 1040.55 532.94 1042.49 533.47C1044.44 534.00 1046.39 534.52 1048.33 535.05C1050.28 535.57 1052.23 536.10 1054.18 536.62C1056.13 537.14 1058.07 537.66 1060.02 538.17C1061.97 538.69 1063.92 539.21 1065.87 539.72C1067.82 540.23 1069.77 540.74 1071.73 541.25C1073.68 541.76 1075.63 542.26 1077.58 542.77C1079.53 543.27 1081.49 543.78 1083.44 544.28C1085.39 544.78 1087.35 545.27 1089.30 545.77C1091.25 546.27 1093.21 546.76 1095.16 547.25C1097.12 547.74 1099.08 548.23 1101.03 548.72C1102.99 549.21 1104.95 549.70 1106.90 550.18C1108.86 550.66 1110.82 551.14 1112.78 551.62C1114.74 552.10 1116.69 552.58 1118.65 553.06C1120.61 553.53 1122.57 554.01 1124.53 554.48C1126.49 554.95 1128.45 555.42 1130.42 555.88C1132.38 556.35 1134.34 556.82 1136.30 557.28C1138.26 557.74 1140.23 558.20 1142.19 558.66C1144.15 559.12 1146.12 559.58 1148.08 560.03C1150.04 560.49 1152.01 560.94 1153.97 561.39C1155.94 561.84 1157.91 562.29 1159.87 562.74C1161.84 563.18 1163.80 563.63 1165.77 564.07C1167.74 564.51 1169.71 564.95 1171.67 565.39C1173.64 565.83 1175.61 566.26 1177.58 566.70C1179.55 567.13 1181.52 567.56 1183.49 567.99C1185.46 568.42 1187.43 568.85 1189.40 569.27C1191.37 569.70 1193.34 570.12 1195.31 570.54C1197.29 570.97 1199.26 571.38 1201.23 571.80C1203.20 572.22 1205.18 572.63 1207.15 573.05C1209.13 573.46 1211.10 573.87 1213.07 574.28C1215.05 574.69 1217.02 575.09 1219.00 575.50C1220.98 575.90 1222.95 576.31 1224.93 576.71C1226.90 577.11 1228.88 577.50 1230.86 577.90C1232.84 578.30 1234.81 578.69 1236.79 579.08C1238.77 579.47 1240.75 579.86 1242.73 580.25C1244.71 580.64 1246.69 581.02 1248.67 581.41C1250.65 581.79 1252.63 582.17 1254.61 582.55C1256.59 582.93 1258.57 583.31 1260.56 583.68C1262.54 584.05 1264.52 584.43 1266.50 584.80C1268.49 585.17 1270.47 585.54 1272.45 585.90C1274.44 586.27 1276.42 586.63 1278.41 587.00C1280.39 587.36 1282.38 587.72 1284.36 588.08C1286.35 588.43 1288.33 588.79 1290.32 589.14C1292.31 589.50 1294.29 589.85 1296.28 590.20C1298.27 590.55 1300.25 590.89 1302.24 591.24C1304.23 591.58 1306.22 591.92 1308.21 592.27C1310.20 592.61 1312.19 592.94 1314.18 593.28C1316.17 593.62 1318.16 593.95 1320.15 594.28C1322.14 594.62 1324.13 594.95 1326.12 595.27C1328.11 595.60 1330.11 595.93 1332.10 596.25C1334.09 596.57 1336.08 596.89 1338.08 597.21C1340.07 597.53 1342.06 597.85 1344.06 598.16C1346.05 598.48 1348.05 598.79 1350.04 599.10C1352.04 599.41 1354.03 599.72 1356.03 600.03C1358.03 600.33 1360.02 600.64 1362.02 600.94C1364.02 601.24 1366.01 601.54 1368.01 601.84C1370.01 602.14 1372.01 602.43 1374.00 602.73C1376.00 603.02 1379.00 603.45 1380.00 603.60" stroke="#9e88ef" stroke-opacity="0.73"/>
</g>
</g>
<g fill="none" stroke="#000" stroke-width="1" shape-rendering="crispEdges">
<path d="M240.5 115V650"/><path d="M240 649.5H1403"/>
<path d="M339.5 640V649"/><path d="M439.5 640V649"/><path d="M539.5 640V649"/><path d="M639.5 640V649"/><path d="M739.5 640V649"/><path d="M839.5 640V649"/><path d="M939.5 640V649"/><path d="M1039.5 640V649"/><path d="M1139.5 640V649"/><path d="M1239.5 640V649"/><path d="M1339.5 640V649"/>
<path d="M240 274.5H250.5"/><path d="M240 399.5H250.5"/><path d="M240 524.5H250.5"/>
</g>
<g fill="none" stroke="#000" stroke-width="2" stroke-linecap="butt" stroke-linejoin="miter">
<path d="M667 539V511.5M659.9 518.6L667 511.5L674.1 518.6"/>
<path d="M828 529V501.5M820.9 508.6L828 501.5L835.1 508.6"/>
<path d="M1059 517V489.5M1051.9 496.6L1059 489.5L1066.1 496.6"/>
</g>
<g class="tick" text-anchor="end">
<text x="231.4" y="154.4">100%</text>
<text x="231.4" y="278.9">75%</text>
<text x="231.4" y="403.9">50%</text>
<text x="231.4" y="528.9">25%</text>
<text x="226.3" y="647.2">0</text>
</g>
<g class="rev">
<text x="549.8" y="483.7" letter-spacing="0.05">Review 1</text>
<text x="709.8" y="483.7" letter-spacing="0.55">Review 2</text>
<text x="939.8" y="483.7" letter-spacing="0.65">Review 3</text>
</g>
<text class="ttl" y="712"><tspan x="711" letter-spacing="0.8">Time</tspan> <tspan x="814.8" dy="-3 3 0 0 0 -3" letter-spacing="0.65">(days)</tspan></text>
<text class="ttl" transform="translate(172.2 601.75) rotate(-90)"><tspan x="-3" letter-spacing="1.15">Memory</tspan> <tspan x="164" letter-spacing="1.2">retention</tspan> <tspan x="345.4" dy="-3.5 3.5 -3.5" textLength="58" lengthAdjust="spacingAndGlyphs">(%)</tspan></text>
</svg>
</body>
</html>
